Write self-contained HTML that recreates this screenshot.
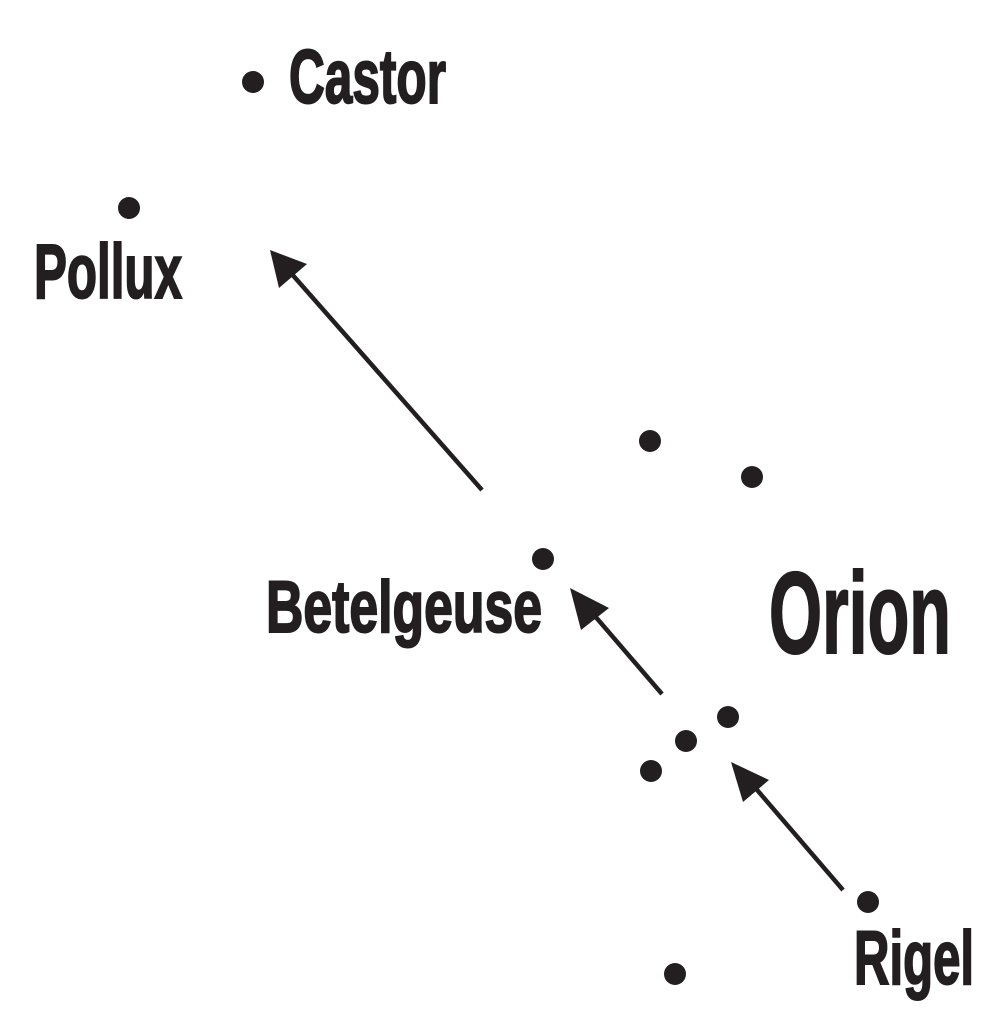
<!DOCTYPE html>
<html><head><meta charset="utf-8"><style>
html,body{margin:0;padding:0;background:#fff;}
svg{display:block}
text{font-family:"Liberation Sans",sans-serif;font-weight:bold;fill:#231f20;stroke:#231f20;stroke-width:2;}
</style></head><body>
<svg width="1005" height="1024" viewBox="0 0 1005 1024">
<g fill="#231f20">
<circle cx="253" cy="82" r="11"/>
<circle cx="129" cy="208" r="11"/>
<circle cx="650" cy="441" r="11"/>
<circle cx="752" cy="477" r="11"/>
<circle cx="543" cy="559" r="11"/>
<circle cx="728" cy="717" r="11"/>
<circle cx="686" cy="741" r="11"/>
<circle cx="651" cy="771" r="11"/>
<circle cx="868" cy="902" r="11"/>
<circle cx="675" cy="974" r="11"/>
</g>
<g stroke="#231f20" stroke-width="4.5" fill="none">
<line x1="482" y1="490" x2="290" y2="272"/>
<line x1="662" y1="694" x2="588" y2="608"/>
<line x1="843" y1="890" x2="752" y2="784"/>
</g>
<g fill="#231f20">
<polygon points="270,250 279,288 307,264"/>
<polygon points="570,588 581,630 609,608"/>
<polygon points="731,762 743,802 769,780"/>
</g>
<text x="289" y="103" font-size="76" textLength="157" lengthAdjust="spacingAndGlyphs">Castor</text>
<text x="34" y="298" font-size="77" textLength="148" lengthAdjust="spacingAndGlyphs">Pollux</text>
<text x="266" y="632" font-size="73" textLength="276" lengthAdjust="spacingAndGlyphs">Betelgeuse</text>
<text x="769" y="653" font-size="116" textLength="182" lengthAdjust="spacingAndGlyphs">Orion</text>
<text x="854" y="984" font-size="76" textLength="120" lengthAdjust="spacingAndGlyphs">Rigel</text>
</svg>
</body></html>
